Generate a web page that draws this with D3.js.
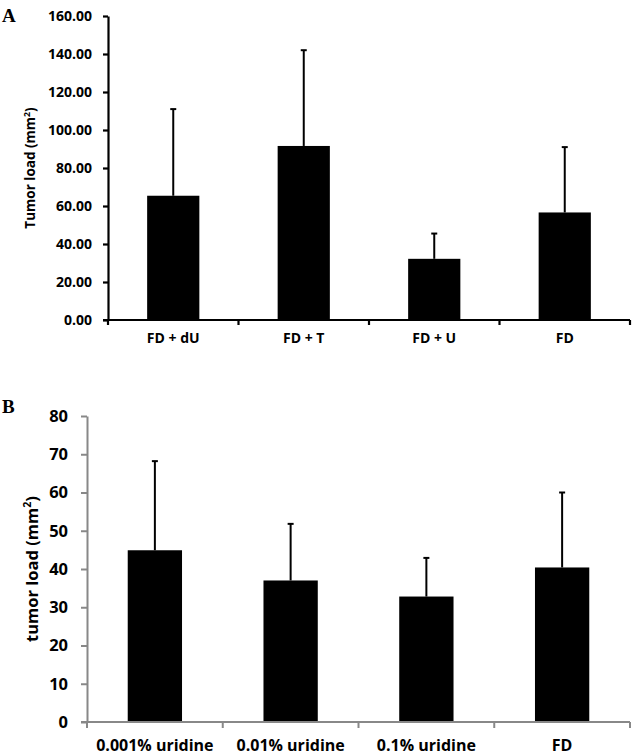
<!DOCTYPE html>
<html><head><meta charset="utf-8">
<script src="https://cdn.jsdelivr.net/npm/d3@7"></script>
<style>
body{margin:0;background:#fff;}
text{font-family:"Open Sans",sans-serif;font-weight:700;fill:#000;}
</style></head>
<body><svg id="c" width="632" height="756"></svg>
<script>
// Panel A data
const catsA = ["FD + dU", "FD + T", "FD + U", "FD"];
const meanA = [65.4, 91.6, 32.2, 56.6];
const upperA = [111.0, 142.0, 45.5, 91.0];   // mean + SD (top of error bar)
const ticksA = [0, 20, 40, 60, 80, 100, 120, 140, 160];

// Panel B data
const catsB = ["0.001% uridine", "0.01% uridine", "0.1% uridine", "FD"];
const meanB = [44.9, 37.0, 32.8, 40.4];
const upperB = [68.2, 51.8, 42.9, 60.0];
const ticksB = [0, 10, 20, 30, 40, 50, 60, 70, 80];

const svg = d3.select("#c");

function panel(o){
  const g = svg.append("g");
  const x = d3.scaleBand().domain(o.cats).range([o.x0, o.x1]).padding(0);
  const y = d3.scaleLinear().domain([0, o.ymax]).range([o.y1, o.y0]);
  const bw = x.bandwidth() * 0.4;

  // bars
  g.selectAll("rect.bar").data(o.cats).join("rect")
    .attr("x", d => x(d) + (x.bandwidth() - bw) / 2)
    .attr("y", (d, i) => y(o.mean[i]))
    .attr("width", bw)
    .attr("height", (d, i) => y(0) - y(o.mean[i]))
    .attr("fill", "#000");

  // error bars (upper only)
  const eb = g.selectAll("g.eb").data(o.cats).join("g");
  eb.append("line")
    .attr("x1", d => x(d) + x.bandwidth() / 2).attr("x2", d => x(d) + x.bandwidth() / 2)
    .attr("y1", (d, i) => y(o.mean[i])).attr("y2", (d, i) => y(o.upper[i]))
    .attr("stroke", "#000").attr("stroke-width", 2);
  eb.append("line")
    .attr("x1", d => x(d) + x.bandwidth() / 2 - 3).attr("x2", d => x(d) + x.bandwidth() / 2 + 3)
    .attr("y1", (d, i) => y(o.upper[i])).attr("y2", (d, i) => y(o.upper[i]))
    .attr("stroke", "#000").attr("stroke-width", 2);

  // y axis
  const ya = g.append("g").attr("transform", `translate(${o.x0},0)`)
    .call(d3.axisLeft(y).tickValues(o.ticks).tickFormat(d3.format(o.fmt))
      .tickSizeOuter(0).tickSizeInner(o.tick).tickPadding(o.pad));
  ya.select(".domain").attr("stroke", o.axisColor).attr("stroke-width", o.axisW);
  ya.selectAll(".tick line").attr("stroke", o.axisColor).attr("stroke-width", o.axisW);
  ya.selectAll(".tick text").attr("font-size", o.fs).style("font-family", '"Open Sans",sans-serif').style("font-weight", 700).attr("fill", "#000");

  // x axis line
  g.append("line").attr("x1", o.x0 - o.tick).attr("x2", o.x1)
    .attr("y1", y(0)).attr("y2", y(0))
    .attr("stroke", o.axisColor).attr("stroke-width", o.axisW);
  // x category boundary ticks
  const bounds = o.cats.map(d => x(d)).concat([o.x1]);
  g.selectAll("line.xt").data(bounds).join("line")
    .attr("x1", d => d).attr("x2", d => d)
    .attr("y1", y(0)).attr("y2", y(0) + o.tick)
    .attr("stroke", o.axisColor).attr("stroke-width", o.axisW);
  // x labels
  g.selectAll("text.xl").data(o.cats).join("text")
    .attr("x", d => x(d) + x.bandwidth() / 2)
    .attr("y", o.xlY)
    .attr("text-anchor", "middle")
    .attr("font-size", o.xfs)
    .text(d => d);

  // y title
  const t = g.append("text")
    .attr("transform", `translate(${o.titleX},${(o.y0 + o.y1) / 2}) rotate(-90)`)
    .attr("text-anchor", "middle")
    .attr("font-size", o.tfs);
  t.append("tspan").text(o.title + " (mm");
  t.append("tspan").attr("font-size", o.tfs * 0.65).attr("dy", -o.tfs * 0.4).text("2");
  t.append("tspan").attr("dy", o.tfs * 0.4).text(")");

  // panel letter
  g.append("text").attr("x", 2).attr("y", o.letterY)
    .style("font-family", '"Liberation Serif","Times New Roman",serif')
    .attr("font-size", 19).text(o.letter);
}

panel({cats: catsA, mean: meanA, upper: upperA, ticks: ticksA, ymax: 160, fmt: ".2f",
  x0: 108, x1: 630, y0: 16, y1: 320, tick: 5, pad: 11, axisColor: "#000", axisW: 2.2,
  fs: 14, xfs: 14, tfs: 13.5, xlY: 343, titleX: 35, title: "Tumor load", letter: "A", letterY: 22});

panel({cats: catsB, mean: meanB, upper: upperB, ticks: ticksB, ymax: 80, fmt: "d",
  x0: 87, x1: 630, y0: 416, y1: 722, tick: 6, pad: 13, axisColor: "#888", axisW: 2,
  fs: 16.5, xfs: 16, tfs: 16.5, xlY: 751, titleX: 38, title: "tumor load", letter: "B", letterY: 413});
</script></body></html>
